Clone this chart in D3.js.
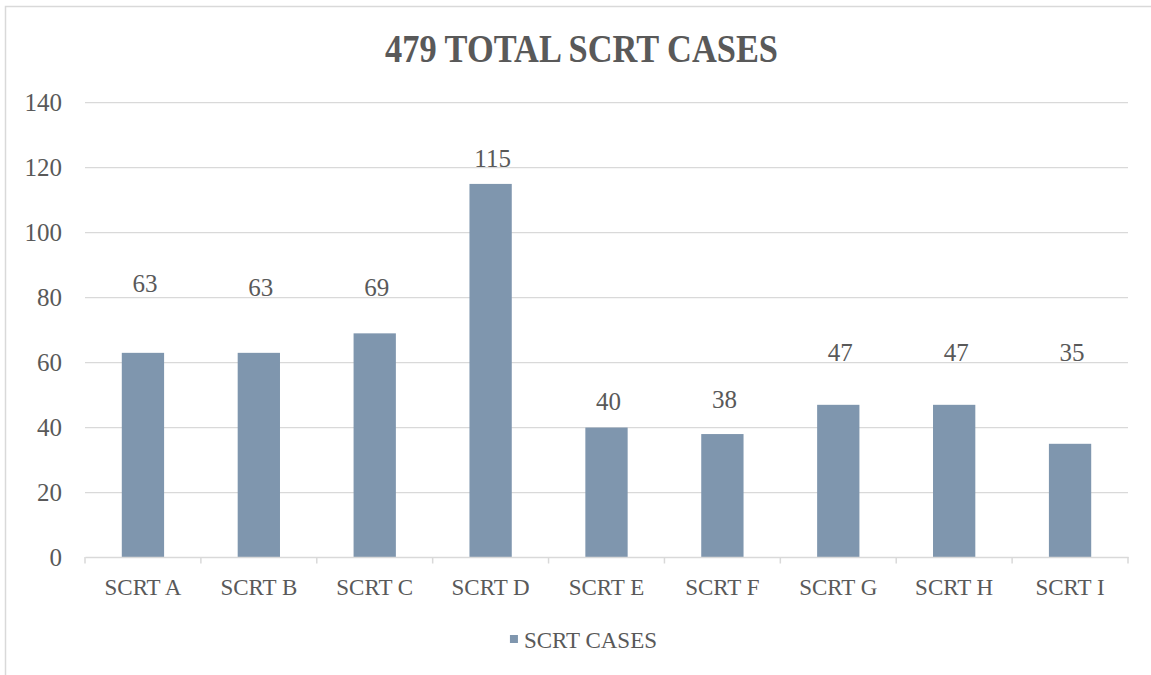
<!DOCTYPE html>
<html>
<head>
<meta charset="utf-8">
<script src="https://cdn.jsdelivr.net/npm/d3@7"></script>
<style>
  html, body { margin: 0; padding: 0; background: #fff; }
  svg { display: block; font-family: "Liberation Serif", "Times New Roman", serif; }
</style>
</head>
<body>
<svg width="1151" height="675"></svg>
<script>
"use strict";

// data
var categories = ["SCRT A", "SCRT B", "SCRT C", "SCRT D", "SCRT E", "SCRT F", "SCRT G", "SCRT H", "SCRT I"];
var cases = [63, 63, 69, 115, 40, 38, 47, 47, 35];
// where each data label sits, in axis units (labels were moved by hand in the original)
var labelAt = [81.6, 80.6, 80.6, 120.3, 45.4, 45.9, 60.6, 60.6, 60.6];
var yTicks = [0, 20, 40, 60, 80, 100, 120, 140];
var seriesName = "SCRT CASES";
var title = "479 TOTAL SCRT CASES";

var svg = d3.select("svg"),
    textColor = "#595959",
    lineColor = "#d9d9d9",
    barColor = "#7f96ae";

var x0 = 85, x1 = 1128, yTop = 102.7, yBottom = 557.5;

// chart frame (runs off the right and bottom of the picture)
svg.append("rect")
    .attr("x", 5.5).attr("y", 6.5)
    .attr("width", 1200).attr("height", 720)
    .attr("fill", "none")
    .attr("stroke", lineColor)
    .attr("stroke-width", 1.5);

var x = d3.scaleBand().domain(categories).range([x0, x1]).padding(0);
var y = d3.scaleLinear().domain([0, 140]).range([yBottom, yTop]);
var barWidth = x.bandwidth() * 0.365;

// gridlines
svg.append("g")
    .selectAll("line")
    .data(yTicks.filter(function(t) { return t > 0; }))
    .enter().append("line")
    .attr("x1", x0).attr("x2", x1)
    .attr("y1", function(d) { return y(d); })
    .attr("y2", function(d) { return y(d); })
    .attr("stroke", lineColor)
    .attr("stroke-width", 1.2);

// y labels
svg.append("g")
    .selectAll("text")
    .data(yTicks)
    .enter().append("text")
    .attr("x", 62)
    .attr("y", function(d) { return y(d); })
    .attr("dy", "0.34em")
    .attr("text-anchor", "end")
    .attr("font-size", 25)
    .attr("fill", textColor)
    .text(function(d) { return d; });

// bars
svg.append("g")
    .selectAll("rect")
    .data(cases)
    .enter().append("rect")
    .attr("x", function(d, i) { return x(categories[i]) + (x.bandwidth() - barWidth) / 2; })
    .attr("y", function(d) { return y(d); })
    .attr("width", barWidth)
    .attr("height", function(d) { return y(0) - y(d); })
    .attr("fill", barColor);

// x axis: line plus tick marks at the band edges
var xAxis = d3.axisBottom(x).tickSize(0).tickFormat("");
var axisG = svg.append("g")
    .attr("transform", "translate(0," + (yBottom - 0.5) + ")")
    .call(xAxis);
axisG.select(".domain").attr("stroke", lineColor).attr("stroke-width", 1.5);
axisG.selectAll(".tick").remove();

var edges = categories.map(function(c) { return x(c); }).concat([x1]);
axisG.selectAll("line.edge")
    .data(edges)
    .enter().append("line")
    .attr("class", "edge")
    .attr("x1", function(d) { return d; })
    .attr("x2", function(d) { return d; })
    .attr("y1", 0).attr("y2", 6.5)
    .attr("stroke", lineColor)
    .attr("stroke-width", 1.5);

// category labels
svg.append("g")
    .selectAll("text")
    .data(categories)
    .enter().append("text")
    .attr("x", function(d) { return x(d) + x.bandwidth() / 2; })
    .attr("y", 595)
    .attr("text-anchor", "middle")
    .attr("font-size", 23)
    .attr("fill", textColor)
    .text(function(d) { return d; });

// data labels
svg.append("g")
    .selectAll("text")
    .data(cases)
    .enter().append("text")
    .attr("x", function(d, i) { return x(categories[i]) + x.bandwidth() / 2 + 2; })
    .attr("y", function(d, i) { return y(labelAt[i]); })
    .attr("text-anchor", "middle")
    .attr("font-size", 25)
    .attr("fill", textColor)
    .text(function(d) { return d; });

// title
svg.append("text")
    .attr("x", 581.5)
    .attr("y", 61.7)
    .attr("text-anchor", "middle")
    .attr("font-size", 39)
    .attr("font-weight", "bold")
    .attr("fill", textColor)
    .attr("textLength", 393)
    .attr("lengthAdjust", "spacingAndGlyphs")
    .text(title);

// legend
var legend = svg.append("g");
var legText = legend.append("text")
    .attr("x", 657)
    .attr("y", 647.7)
    .attr("text-anchor", "end")
    .attr("font-size", 23)
    .attr("fill", textColor)
    .text(seriesName);
var tw = legText.node().getComputedTextLength();
legend.append("rect")
    .attr("x", 657 - tw - 14)
    .attr("y", 635)
    .attr("width", 8).attr("height", 8)
    .attr("fill", barColor);
</script>
</body>
</html>
